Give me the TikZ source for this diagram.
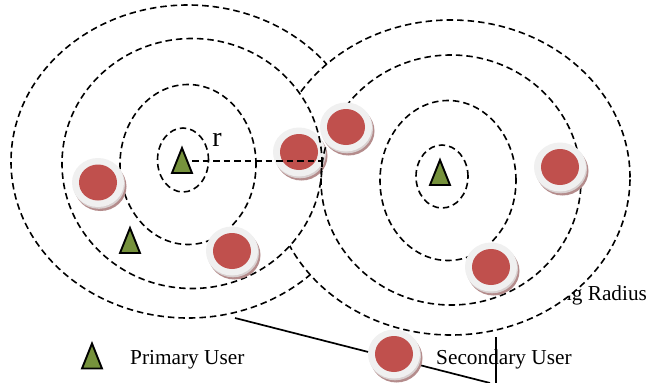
\documentclass[tikz,border=0pt]{standalone}
\usepackage{fontspec}
\setmainfont{Liberation Serif}
\definecolor{sured}{HTML}{C0504D}
\definecolor{suring}{HTML}{F0F0F0}
\definecolor{suedge}{HTML}{D8D0D0}
\definecolor{sushadow}{HTML}{B48C8C}
\definecolor{puolive}{HTML}{76923C}
\tikzset{
  zone/.style={dash pattern=on 6.5pt off 4pt, line width=1.6pt},
  lbl/.style={font=\fontsize{21.3}{25}\selectfont, inner sep=0pt, anchor=base west},
  callout/.style={line width=1.7pt},
  pu/.pic={\draw[fill=puolive, line width=1.9pt, line join=miter] (-10,12.5) -- (10,12.5) -- (0,-12.5) -- cycle;},
  su/.pic={
    \fill[sushadow] (2.5,4) ellipse [x radius=26pt, y radius=24.5pt];
    \fill[suedge] (1,1.8) ellipse [x radius=26pt, y radius=24.5pt];
    \fill[suring] (0,0) ellipse [x radius=26pt, y radius=24.5pt];
    \fill[sured] (0,0) ellipse [x radius=19pt, y radius=18pt];
  }
}
\begin{document}
\begin{tikzpicture}[x=1pt,y=-1pt]
\useasboundingbox (0,0) rectangle (646,383);
% partly hidden label
\node[lbl] (srad) at (561,300) {ng Radius};
% outer zones (white filled so later ones hide earlier ones)
\draw[zone, fill=white] (188,161.5) ellipse [x radius=177pt, y radius=156.5pt];
\draw[zone, fill=white] (451,177.5) ellipse [x radius=179pt, y radius=157.5pt];
\fill[white] (192,163.5) ellipse [x radius=130pt, y radius=125pt];
\pic (su2) at (299,152) {su};
\draw[zone] (192,163.5) ellipse [x radius=130pt, y radius=125pt];
\draw[zone] (188,164.5) ellipse [x radius=68pt, y radius=80pt];
\draw[zone] (183,160) ellipse [x radius=25.5pt, y radius=32pt];
\draw[zone] (451,180) ellipse [x radius=130pt, y radius=125pt];
\draw[zone] (448,180.5) ellipse [x radius=68pt, y radius=80pt];
\draw[zone] (442,176.5) ellipse [x radius=26pt, y radius=31.5pt];
% radius
\coordinate (rStart) at (192,161);
\coordinate (rEnd) at (323,161);
\draw[zone] (rStart) -- (rEnd);
\node[font=\fontsize{28}{30}\selectfont, inner sep=0pt, anchor=base] (rlab) at (217,146) {r};
% callout lines
\coordinate (cA) at (235,318);
\coordinate (cB) at (490,383);
\draw[callout] (cA) -- (cB);
\node[lbl] (sulab) at (436,364) {Secondary User};
\node[lbl] (pulab) at (130,364) {Primary User};
\coordinate (vA) at (496,337);
\coordinate (vB) at (496,383);
\draw[line width=1.7pt] (vA) -- (vB);
% secondary users
\pic (su3) at (346,127) {su};
\pic (su1) at (98,182.5) {su};
\pic (su4) at (560,167) {su};
\pic (su5) at (232,251) {su};
\pic (su6) at (491,267) {su};
\pic (su7) at (394,354) {su};
% primary users
\pic (pu1) at (182,160.5) {pu};
\pic (pu2) at (440,172.5) {pu};
\pic (pu3) at (130,240.5) {pu};
\pic (pu4) at (92,356) {pu};
\end{tikzpicture}
\end{document}
